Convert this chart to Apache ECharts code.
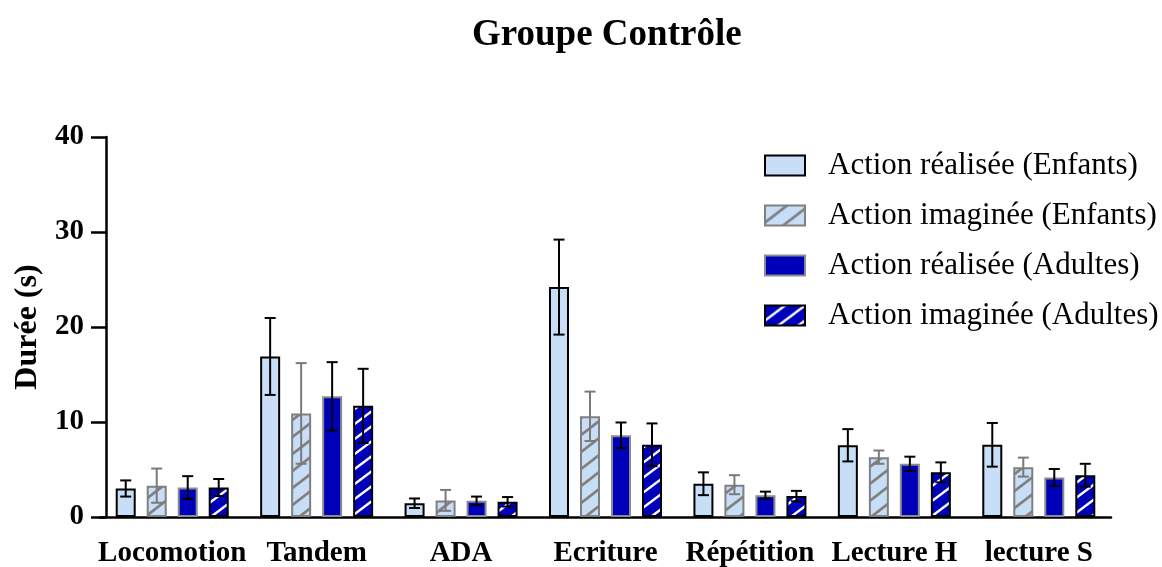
<!DOCTYPE html>
<html><head><meta charset="utf-8">
<script src="https://cdn.jsdelivr.net/npm/echarts@6/dist/echarts.min.js"></script>
<style>html,body{margin:0;padding:0;background:#fff}#c{width:1162px;height:567px}</style>
</head><body><div id="c"></div>
<script>
const categories = ['Locomotion','Tandem','ADA','Ecriture','Répétition','Lecture H','lecture S'];
const seriesNames = ['Action réalisée (Enfants)','Action imaginée (Enfants)','Action réalisée (Adultes)','Action imaginée (Adultes)'];
const realEnfants = [3.0, 16.9, 1.45, 24.2, 3.5, 7.55, 7.6];
const imagEnfants = [3.3, 10.9, 1.75, 10.6, 3.4, 6.3, 5.25];
const realAdultes = [3.1, 12.7, 1.7, 8.6, 2.3, 5.6, 4.15];
const imagAdultes = [3.1, 11.7, 1.6, 7.6, 2.2, 4.7, 4.4];
const errRealEnfants = [0.85, 4.05, 0.5, 5.0, 1.2, 1.7, 2.3];
const errImagEnfants = [1.8, 5.3, 1.1, 2.6, 1.0, 0.7, 1.0];
const errRealAdultes = [1.2, 3.6, 0.45, 1.35, 0.37, 0.75, 0.9];
const errImagAdultes = [0.9, 3.9, 0.5, 2.25, 0.55, 1.05, 1.2];
const yTicks = [0, 10, 20, 30, 40];

const values = [realEnfants, imagEnfants, realAdultes, imagAdultes];
const errors = [errRealEnfants, errImagEnfants, errRealAdultes, errImagAdultes];

function hatch(bg, stroke, w, h, lw) {
  const c = document.createElement('canvas');
  c.width = w; c.height = h;
  const g = c.getContext('2d');
  g.fillStyle = bg; g.fillRect(0, 0, w, h);
  g.strokeStyle = stroke; g.lineWidth = lw;
  for (const o of [-1, 0, 1]) {
    g.beginPath(); g.moveTo(o * w - 2, h + 2 * h / w); g.lineTo(o * w + w + 2, -2 * h / w); g.stroke();
  }
  return { image: c, repeat: 'repeat' };
}

const lightBlue = '#c8ddf6';
const darkBlue = '#0000bb';
const fills = [lightBlue, hatch(lightBlue, '#7f7f7f', 22, 17, 2.6), darkBlue, hatch(darkBlue, '#ffffff', 20, 15, 2.4)];
const borders = ['#000000', '#808080', '#8c8c8c', '#000000'];
const errColors = ['#000000', '#7a7a7a', '#000000', '#000000'];

const BW = 20, GAP = 11;
const serif = '"Liberation Serif", "Times New Roman", serif';

const series = [];
values.forEach((v, i) => {
  series.push({
    name: seriesNames[i], type: 'bar', data: v, barWidth: BW, barGap: (GAP / BW * 100) + '%',
    itemStyle: { color: fills[i], borderColor: borders[i], borderWidth: 2 },
    z: 2
  });
});
values.forEach((v, i) => {
  series.push({
    type: 'custom', name: 'err' + i, z: 5,
    data: v.map((val, k) => [k, val, errors[i][k]]),
    renderItem: function (params, api) {
      const k = api.value(0), val = api.value(1), e = api.value(2);
      const off = (i - 1.5) * (BW + GAP);
      const top = api.coord([k, val + e]);
      const bot = api.coord([k, val - e]);
      const x = top[0] + off;
      const cw = 5.5;
      const st = { stroke: errColors[i], lineWidth: 2 };
      return { type: 'group', children: [
        { type: 'line', shape: { x1: x, y1: top[1], x2: x, y2: bot[1] }, style: st },
        { type: 'line', shape: { x1: x - cw, y1: top[1], x2: x + cw, y2: top[1] }, style: st },
        { type: 'line', shape: { x1: x - cw, y1: bot[1], x2: x + cw, y2: bot[1] }, style: st }
      ]};
    }
  });
});

const chart = echarts.init(document.getElementById('c'));
chart.setOption({
  animation: false,
  backgroundColor: '#fff',
  title: { text: 'Groupe Contrôle', left: 467, top: 12,
    textStyle: { fontFamily: serif, fontWeight: 'bold', fontSize: 37, color: '#000' } },
  legend: {
    data: seriesNames, orient: 'vertical', left: 759, top: 145, icon: 'rect',
    itemWidth: 40, itemHeight: 20, itemGap: 19,
    textStyle: { fontFamily: serif, fontSize: 31, color: '#000', padding: [0, 0, 0, 18] },
    selectedMode: false
  },
  grid: { left: 100, right: 51, top: 137, bottom: 50, containLabel: false, outerBoundsMode: 'none' },
  xAxis: {
    type: 'category', data: categories,
    axisLine: { lineStyle: { color: '#000', width: 2.5 } },
    axisTick: { alignWithLabel: true, length: 10, lineStyle: { color: '#000', width: 2.5 } },
    axisLabel: { fontFamily: serif, fontWeight: 'bold', fontSize: 29, color: '#000', margin: 22, interval: 0 }
  },
  yAxis: {
    type: 'value', min: yTicks[0], max: yTicks[yTicks.length - 1], interval: 10, offset: -6,
    name: 'Durée (s)', nameLocation: 'middle', nameGap: 61, nameRotate: 90,
    nameTextStyle: { fontFamily: serif, fontWeight: 'bold', fontSize: 32, color: '#000' },
    axisLine: { show: true, lineStyle: { color: '#000', width: 2.5 } },
    axisTick: { show: true, length: 15, lineStyle: { color: '#000', width: 2.5 } },
    axisLabel: { fontFamily: serif, fontWeight: 'bold', fontSize: 29, color: '#000', margin: 22 },
    splitLine: { show: false }
  },
  series: series
});
</script></body></html>
